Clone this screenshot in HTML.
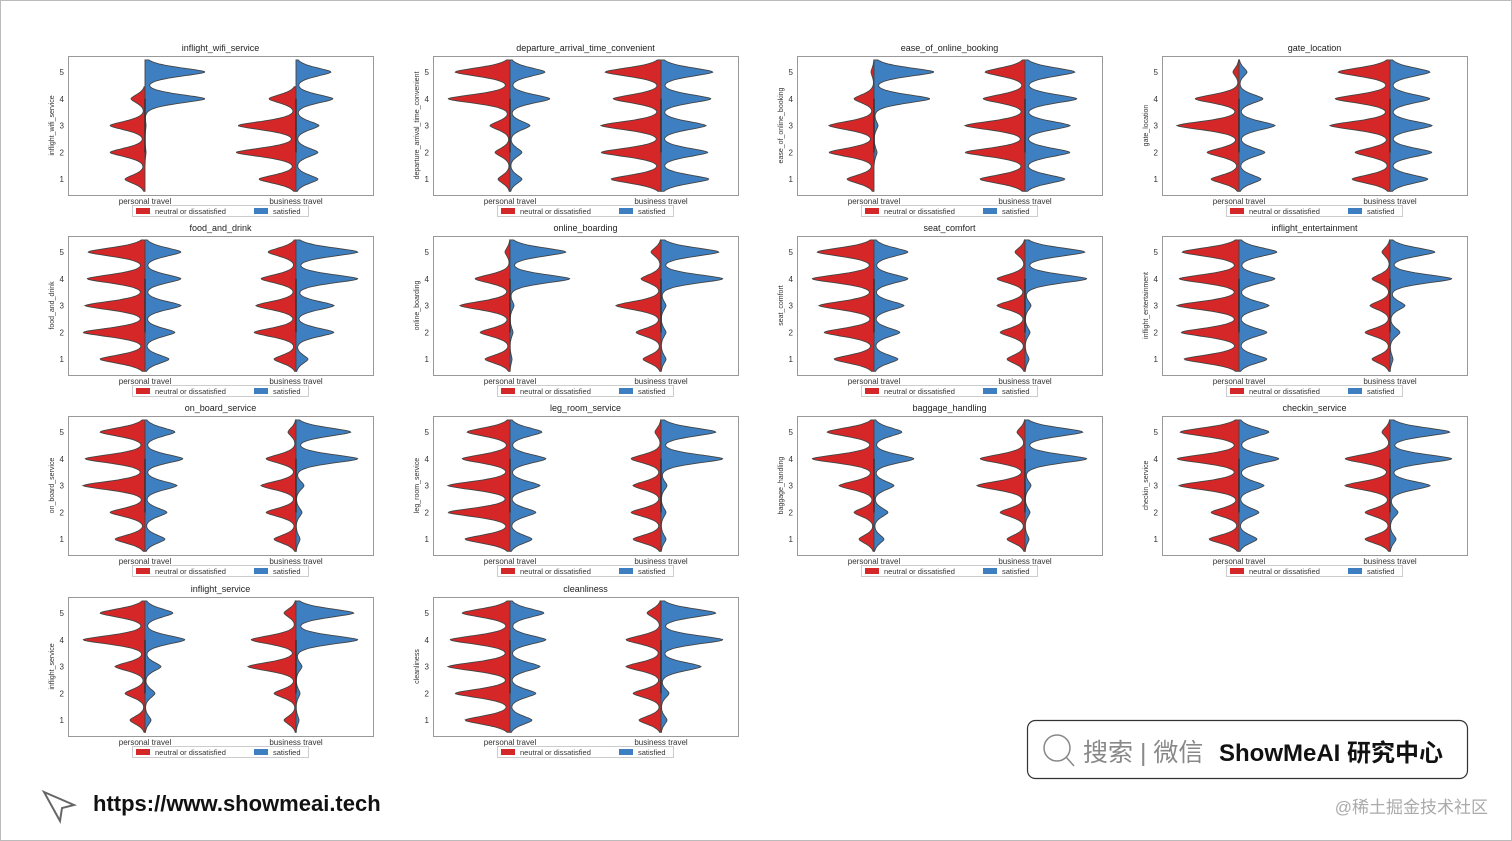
<!DOCTYPE html>
<html><head><meta charset="utf-8"><style>
body{margin:0;background:#fff;}
svg{display:block;font-family:"Liberation Sans","Noto Sans CJK SC",sans-serif;}
</style></head><body>
<svg id="c" width="1512" height="841" viewBox="0 0 1512 841">
<rect x="0.5" y="0.5" width="1511" height="840" fill="#fff" stroke="#bbb"/>
<g>
<rect x="1027.5" y="720.5" width="440" height="58" rx="8" fill="#fff" stroke="#333" stroke-width="1.2"/>
<circle cx="1057" cy="748" r="13" fill="none" stroke="#888" stroke-width="1.5"/>
<line x1="1066" y1="757" x2="1074" y2="766" stroke="#888" stroke-width="1.5"/>
<text x="1083" y="761" font-size="25" fill="#888">搜索 | 微信</text>
<text x="1219" y="761" font-size="24" font-weight="bold" fill="#111">ShowMeAI 研究中心</text>
</g>
<g>
<path d="M44 792 L74 805 L62 808 L60 821 Z" fill="none" stroke="#666" stroke-width="2"/>
<text x="93" y="811" font-size="22" font-weight="bold" fill="#111">https://www.showmeai.tech</text>
</g>
<text x="1488" y="813" font-size="17" fill="#aaa" text-anchor="end">@稀土掘金技术社区</text>
</svg>
<script>
const titles=["inflight_wifi_service","departure_arrival_time_convenient","ease_of_online_booking","gate_location","food_and_drink","online_boarding","seat_comfort","inflight_entertainment","on_board_service","leg_room_service","baggage_handling","checkin_service","inflight_service","cleanliness"];
const categories=["personal travel","business travel"];
const levels=[1,2,3,4,5];
const personalRed=[[20,35,35,14,0],[12,15,20,62,55],[27,45,45,20,3],[28,32,62,44,6],[45,62,60,58,57],[25,30,50,35,5],[40,50,55,62,57],[55,58,62,60,57],[30,35,62,60,45],[45,62,62,48,43],[15,20,35,62,47],[30,28,60,62,59],[15,20,30,62,45],[45,55,62,60,48]];
const personalBlue=[[0,1,1,60,60],[12,12,20,40,35],[0,3,4,56,60],[22,26,36,24,8],[24,30,36,36,36],[2,3,4,60,56],[24,26,30,34,34],[28,28,30,36,38],[20,22,32,38,30],[22,26,30,36,32],[10,14,20,40,28],[18,20,25,40,30],[6,10,16,40,28],[22,26,30,36,34]];
const businessRed=[[37,60,58,27,0],[50,60,60,48,56],[45,60,60,42,40],[38,35,60,55,52],[22,42,40,35,28],[18,25,45,20,10],[18,25,28,28,10],[18,25,20,18,8],[22,30,35,30,8],[28,30,28,30,6],[18,25,48,45,8],[25,25,45,45,8],[12,22,48,45,12],[22,28,35,35,14]];
const businessBlue=[[22,22,23,37,35],[48,47,45,50,52],[40,45,45,52,50],[38,42,42,40,40],[12,38,38,62,62],[5,5,5,62,58],[4,5,6,62,60],[3,10,15,62,45],[4,6,8,62,55],[5,5,6,62,55],[4,5,6,62,58],[6,8,40,62,60],[3,4,6,62,58],[6,8,40,62,55]];
const yTicks=[1,2,3,4,5];

const NS="http://www.w3.org/2000/svg";
const svg=document.getElementById('c');
function mk(tag,attrs,parent){const e=document.createElementNS(NS,tag);for(const k in attrs)e.setAttribute(k,attrs[k]);(parent||svg).appendChild(e);return e;}
const colX=[68,433,797,1162],rowY=[56,236,416,597],W=305,H=139;
function dens(w,v){let s=0;for(let i=0;i<5;i++){const d=Math.abs(v-levels[i]);s+=w[i]*Math.exp(-Math.pow(d/0.24,1.6));}return s;}
function halfPath(w,cx,yf,dir){
  let lo=null,hi=null;for(let i=0;i<5;i++)if(w[i]>0.5){if(lo===null)lo=levels[i];hi=levels[i];}
  if(lo===null)return null;
  const a=lo-0.45,b=hi+0.45;let pts=[];
  for(let k=0;k<=160;k++){const v=a+(b-a)*k/160;pts.push([cx+dir*Math.min(dens(w,v),64),yf(v)]);}
  let d=`M${cx},${yf(a)}`;pts.forEach(p=>d+=` L${p[0].toFixed(1)},${p[1].toFixed(1)}`);d+=` L${cx},${yf(b)} Z`;return d;
}
titles.forEach((t,idx)=>{
  const x0=colX[idx%4],y0=rowY[Math.floor(idx/4)];
  const g=mk('g',{});
  
  
  const yf=v=>y0+16+(5-v)*26.8;
  const xs=[x0+77,x0+228];
  const box=mk('rect',{x:x0+0.5,y:y0+0.5,width:W,height:H,fill:'#fff',stroke:'#999','stroke-width':1},g);
  
  const tt=mk('text',{x:x0+W/2,y:y0-5,'font-size':9,'text-anchor':'middle',fill:'#222'},g);tt.textContent=t;
  
  yTicks.forEach(v=>{const tx=mk('text',{x:x0-4,y:yf(v)+3,'font-size':8,'text-anchor':'end',fill:'#333'},g);tx.textContent=v;
    });
  const yl=mk('text',{x:0,y:0,'font-size':7,'text-anchor':'middle',fill:'#333',transform:`translate(${x0-14},${y0+H/2}) rotate(-90)`},g);yl.textContent=t;
  
  const sets=[[personalRed[idx],personalBlue[idx]],[businessRed[idx],businessBlue[idx]]];
  sets.forEach((s,ci)=>{
    const cx=xs[ci];
    const pr=halfPath(s[0],cx,yf,-1);
    if(pr){const p=mk('path',{d:pr,fill:'#d62728',stroke:'#444','stroke-width':0.9},g);}
    const pb=halfPath(s[1],cx,yf,1);
    if(pb){const p=mk('path',{d:pb,fill:'#3d7fc1',stroke:'#444','stroke-width':0.9},g);}
    const cl=mk('line',{x1:cx,x2:cx,y1:yf(4),y2:yf(2),stroke:'#333','stroke-width':1.5},g);
    
    const xl=mk('text',{x:cx,y:y0+H+9,'font-size':8,'text-anchor':'middle',fill:'#333'},g);xl.textContent=categories[ci];
    
  });
  const lg=mk('g',{},g);
  mk('rect',{x:x0+64.5,y:y0+H+10.5,width:176,height:11,fill:'#fff',stroke:'#ccc'},lg);
  mk('rect',{x:x0+68,y:y0+H+13,width:14,height:6,fill:'#d62728'},lg);
  const l1=mk('text',{x:x0+87,y:y0+H+19,'font-size':7.5,fill:'#333'},lg);l1.textContent='neutral or dissatisfied';
  
  mk('rect',{x:x0+186,y:y0+H+13,width:14,height:6,fill:'#3d7fc1'},lg);
  const l2=mk('text',{x:x0+205,y:y0+H+19,'font-size':7.5,fill:'#333'},lg);l2.textContent='satisfied';
  
});
</script>
</body></html>
